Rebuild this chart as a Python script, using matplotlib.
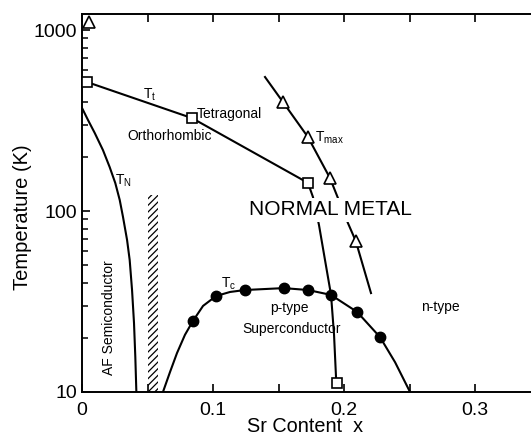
import matplotlib
matplotlib.use("Agg")
import matplotlib.pyplot as plt
from matplotlib.ticker import MultipleLocator, LogLocator, NullFormatter, FixedLocator

plt.rcParams['font.family'] = ['Liberation Sans', 'DejaVu Sans']
plt.rcParams['hatch.linewidth'] = 0.9

# Structural transition T_t (open squares) and its boundary
tt_x = [0.004, 0.084, 0.1725, 0.195]
tt_y = [515, 325, 143, 11.2]
tt_line_x = [0.0038, 0.084, 0.1725, 0.1763, 0.1809, 0.1855, 0.1901, 0.1924, 0.1939]
tt_line_y = [516, 326, 143, 119.5, 83.7, 53.6, 34.4, 20.7, 12.1]

# Resistivity maximum T_max (open triangles)
tmax_x = [0.0053, 0.1534, 0.1725, 0.1893, 0.209]
tmax_y = [1107, 400, 256, 152, 68.2]
tmax_line_x = [0.1397, 0.1534, 0.1725, 0.1893, 0.203, 0.209, 0.2206]
tmax_line_y = [550, 400, 256, 152, 85.8, 68.2, 35.2]

# Superconducting T_c (filled circles) and dome
tc_x = [0.0847, 0.1023, 0.1244, 0.154, 0.1725, 0.190, 0.210, 0.2275]
tc_y = [24.7, 33.9, 36.6, 37.5, 36.6, 34.4, 27.7, 20.1]
tc_line_x = [0.0618, 0.0672, 0.0725, 0.0786, 0.0847, 0.0924, 0.1023, 0.113,
             0.1244, 0.154, 0.1725, 0.190, 0.210, 0.2275, 0.239, 0.2504]
tc_line_y = [10, 12.9, 16.4, 20.7, 24.7, 29.9, 33.9, 35.7,
             36.6, 37.5, 36.6, 34.4, 27.7, 20.1, 14.6, 10]

# Neel temperature T_N
tn_x = [0.0, 0.0023, 0.0046, 0.0097, 0.0160, 0.0211, 0.0254, 0.0288,
        0.0313, 0.0344, 0.0364, 0.0382, 0.0397, 0.0407, 0.0415]
tn_y = [371, 343.5, 318, 270, 217, 175, 142.8, 115,
        92.7, 69.2, 53.6, 36.6, 24.05, 15.6, 10]

# Hatched spin-glass band
band_x = [0.0505, 0.058]
band_top = 122

x_ticks = [0.0, 0.1, 0.2, 0.3]
x_ticklabels = ['0', '0.1', '0.2', '0.3']
y_ticks = [10, 100, 1000]
y_ticklabels = ['10', '100', '1000']

W, H = 531, 438
fig = plt.figure(figsize=(W / 100, H / 100), dpi=100)
ax_left, ax_bottom, ax_top = 82, 392, 14
x_max = 0.35
px_per_unit = 1310
ax = fig.add_axes([ax_left / W, (H - ax_bottom) / H,
                   x_max * px_per_unit / W, (ax_bottom - ax_top) / H])

ax.set_yscale('log')
ax.set_xlim(0, x_max)
ax.set_ylim(10, 1226)

lw = 1.5
ax.plot(tt_line_x, tt_line_y, color='black', lw=lw, zorder=2)
ax.plot(tmax_line_x, tmax_line_y, color='black', lw=lw, zorder=2)
ax.plot(tc_line_x, tc_line_y, color='black', lw=lw, zorder=2)
ax.plot(tn_x, tn_y, color='black', lw=lw, zorder=2)

ax.plot(tt_x, tt_y, linestyle='none', marker='s', ms=6.5, mfc='white',
        mec='black', mew=1.2, zorder=4, clip_on=False)
ax.plot(tmax_x, tmax_y, linestyle='none', marker='^', ms=8.5, mfc='white',
        mec='black', mew=1.2, zorder=4, clip_on=False)
ax.plot(tc_x, tc_y, linestyle='none', marker='o', ms=7.5, mfc='black',
        mec='black', zorder=4)

ax.fill_between(band_x, [10, 10], [band_top, band_top], facecolor='none',
                edgecolor='black', hatch='/////', linewidth=0, zorder=1)

# Region and curve labels
small = 10
ax.text(0.0519, 437, r'$\mathregular{T_t}$', fontsize=small, ha='center', va='center')
ax.text(0.0878, 343, 'Tetragonal', fontsize=small, ha='left', va='center')
ax.text(0.0672, 259, 'Orthorhombic', fontsize=small, ha='center', va='center')
ax.text(0.0318, 146, r'$\mathregular{T_N}$', fontsize=small, ha='center', va='center')
ax.text(0.1779, 253, r'$\mathregular{T_{max}}$', fontsize=small, ha='left', va='center')
ax.text(0.190, 101.3, 'NORMAL METAL', fontsize=15, ha='center', va='center',
        zorder=3, bbox=dict(facecolor='white', edgecolor='none', pad=1.5))
ax.text(0.1122, 39.5, r'$\mathregular{T_c}$', fontsize=small, ha='center', va='center')
ax.text(0.158, 29.1, 'p-type', fontsize=small, ha='center', va='center')
ax.text(0.1603, 22.3, 'Superconductor', fontsize=small, ha='center', va='center')
ax.text(0.2733, 29.5, 'n-type', fontsize=small, ha='center', va='center')
ax.text(0.0206, 25.6, 'AF Semiconductor', fontsize=small, ha='center', va='center',
        rotation=90)

# Axes styling
for s in ax.spines.values():
    s.set_linewidth(1.4)

ax.xaxis.set_major_locator(FixedLocator(x_ticks))
ax.set_xticklabels(x_ticklabels)
ax.xaxis.set_minor_locator(MultipleLocator(0.05))
ax.yaxis.set_major_locator(FixedLocator(y_ticks))
ax.set_yticklabels(y_ticklabels)
ax.yaxis.set_minor_locator(LogLocator(base=10, subs=range(2, 10)))
ax.yaxis.set_minor_formatter(NullFormatter())

ax.tick_params(axis='x', which='both', direction='in', top=True, bottom=True,
               length=6, width=1.2, labelsize=14, pad=7)
ax.tick_params(axis='y', which='major', direction='in', left=True, right=True,
               length=6, width=1.2, labelsize=14, pad=3.5)
ax.tick_params(axis='y', which='minor', direction='in', left=True, right=True,
               length=4, width=1.1)

fig.text(23 / W, 1 - 217.5 / H, 'Temperature (K)', rotation=90, ha='center',
         va='center', fontsize=14.5)
fig.text(305 / W, 1 - 427 / H, 'Sr Content  x', ha='center', va='center',
         fontsize=14.3)

fig.savefig('out.png', dpi=100)
